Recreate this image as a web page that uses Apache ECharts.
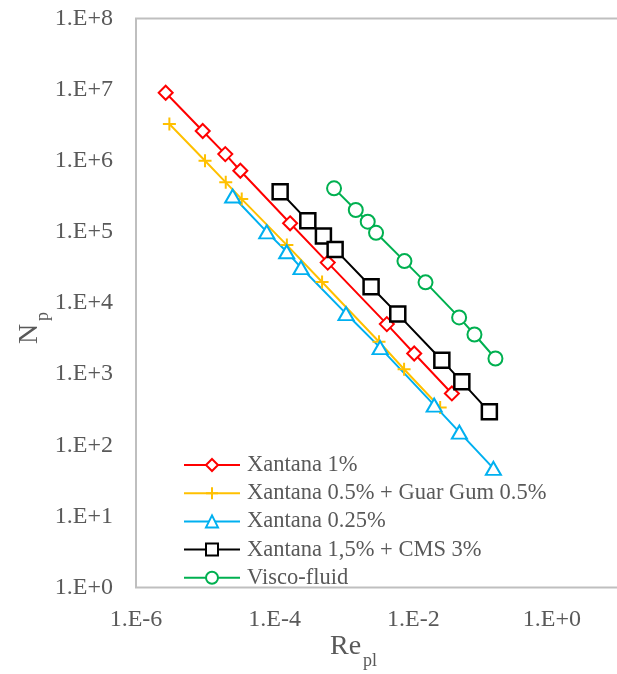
<!DOCTYPE html>
<html>
<head>
<meta charset="utf-8">
<title>Np vs Re</title>
<script src="https://cdn.jsdelivr.net/npm/echarts@6/dist/echarts.min.js"></script>
<style>
  html, body { margin: 0; padding: 0; background: #ffffff; }
  #chart { width: 617px; height: 674px; }
</style>
</head>
<body>
<div id="chart"></div>
<script>
// Power number vs power-law Reynolds number for each fluid
const seriesNames = [
  'Xantana 1%',
  'Xantana 0.5% + Guar Gum 0.5%',
  'Xantana 0.25%',
  'Xantana 1,5% + CMS 3%',
  'Visco-fluid'
];

const xan1Re = [2.68e-6, 9.17e-6, 1.94e-5, 3.20e-5, 1.67e-4, 5.83e-4, 4.15e-3, 1.03e-2, 3.60e-2];
const xan1Np = [9.04e6, 2.62e6, 1.24e6, 7.23e5, 1.32e5, 3.70e4, 5.05e3, 1.95e3, 5.35e2];

const guarRe = [3.03e-6, 9.90e-6, 1.97e-5, 3.35e-5, 1.50e-4, 4.83e-4, 3.20e-3, 7.36e-3, 2.44e-2];
const guarNp = [3.28e6, 1.00e6, 4.97e5, 2.89e5, 6.52e4, 1.97e4, 2.85e3, 1.17e3, 3.40e2];

const xan025Re = [2.48e-5, 7.69e-5, 1.49e-4, 2.40e-4, 1.07e-3, 3.32e-3, 2.00e-2, 4.62e-2, 1.43e-1];
const xan025Np = [3.19e5, 1.00e5, 5.25e4, 3.15e4, 7.10e3, 2.36e3, 3.66e2, 1.53e2, 47.2];

const cmsRe = [1.20e-4, 3.01e-4, 5.05e-4, 7.45e-4, 2.46e-3, 5.97e-3, 2.58e-2, 5.01e-2, 1.25e-1];
const cmsNp = [3.66e5, 1.43e5, 8.73e4, 5.67e4, 1.69e4, 6.98e3, 1.57e3, 7.79e2, 2.95e2];

const viscoRe = [7.19e-4, 1.48e-3, 2.20e-3, 2.90e-3, 7.45e-3, 1.50e-2, 4.58e-2, 7.62e-2, 1.53e-1];
const viscoNp = [4.09e5, 2.03e5, 1.39e5, 9.71e4, 3.88e4, 1.95e4, 6.27e3, 3.61e3, 1.66e3];

const FONT = '"Liberation Serif", "Times New Roman", serif';
const TEXT = '#595959';

function pairs(xs, ys) {
  return xs.map(function (x, i) { return [x, ys[i]]; });
}

function expLabel(v) {
  const e = Math.round(Math.log10(v));
  return '1.E' + (e >= 0 ? '+' : '') + e;
}

function makeSeries(name, xs, ys, color, symbol, size, borderWidth) {
  return {
    name: name,
    type: 'line',
    data: pairs(xs, ys),
    symbol: symbol,
    symbolSize: size,
    showSymbol: true,
    lineStyle: { color: color, width: 2 },
    itemStyle: { color: '#ffffff', borderColor: color, borderWidth: borderWidth },
    emphasis: { disabled: true },
    z: 3
  };
}

const plusPath = 'path://M5,0L5,10M0,5L10,5';

const chart = echarts.init(document.getElementById('chart'), null, { renderer: 'canvas' });

chart.setOption({
  animation: false,
  backgroundColor: '#ffffff',
  grid: {
    left: 136,
    top: 18.5,
    width: 485.3,
    bottom: 86.5,
    show: true,
    borderColor: '#bfbfbf',
    borderWidth: 2,
    backgroundColor: 'transparent',
    containLabel: false,
    outerBoundsMode: 'none'
  },
  xAxis: {
    type: 'log',
    logBase: 10,
    min: 1e-6,
    max: 10,
    splitNumber: 7,
    axisLine: { show: false },
    axisTick: { show: false },
    splitLine: { show: false },
    minorTick: { show: false },
    axisLabel: {
      margin: 20,
      color: TEXT,
      fontFamily: FONT,
      fontSize: 24,
      formatter: function (v) {
        const e = Math.round(Math.log10(v));
        return (e % 2 === 0) ? expLabel(v) : '';
      }
    }
  },
  yAxis: {
    type: 'log',
    logBase: 10,
    min: 1,
    max: 1e8,
    splitNumber: 8,
    axisLine: { show: false },
    axisTick: { show: false },
    splitLine: { show: false },
    minorTick: { show: false },
    axisLabel: {
      margin: 23,
      color: TEXT,
      fontFamily: FONT,
      fontSize: 24,
      formatter: expLabel
    }
  },
  legend: {
    orient: 'vertical',
    left: 183,
    top: 453,
    padding: 0,
    itemWidth: 56,
    itemHeight: 15,
    itemGap: 4.2,
    textStyle: { color: TEXT, fontFamily: FONT, fontSize: 22.5, lineHeight: 24, padding: [0, 0, 0, 2] },
    data: seriesNames
  },
  series: [
    makeSeries(seriesNames[0], xan1Re, xan1Np, '#ff0000', 'diamond', 14, 2),
    makeSeries(seriesNames[1], guarRe, guarNp, '#ffc000', plusPath, 13, 2),
    makeSeries(seriesNames[2], xan025Re, xan025Np, '#00b0f0', 'triangle', [15, 13], 2),
    makeSeries(seriesNames[3], cmsRe, cmsNp, '#000000', 'rect', 15, 2.5),
    makeSeries(seriesNames[4], viscoRe, viscoNp, '#00b050', 'circle', 14, 2)
  ],
  graphic: [
    { type: 'text', left: 330, top: 633, style: { text: 'Re', font: '28px ' + FONT, fill: TEXT } },
    { type: 'text', left: 363, top: 652, style: { text: 'pl', font: '18px ' + FONT, fill: TEXT } },
    { type: 'text', x: 16, y: 344, rotation: Math.PI / 2, style: { text: 'N', font: '28px ' + FONT, fill: TEXT } },
    { type: 'text', x: 34, y: 321, rotation: Math.PI / 2, style: { text: 'p', font: '18px ' + FONT, fill: TEXT } }
  ]
});
</script>
</body>
</html>
